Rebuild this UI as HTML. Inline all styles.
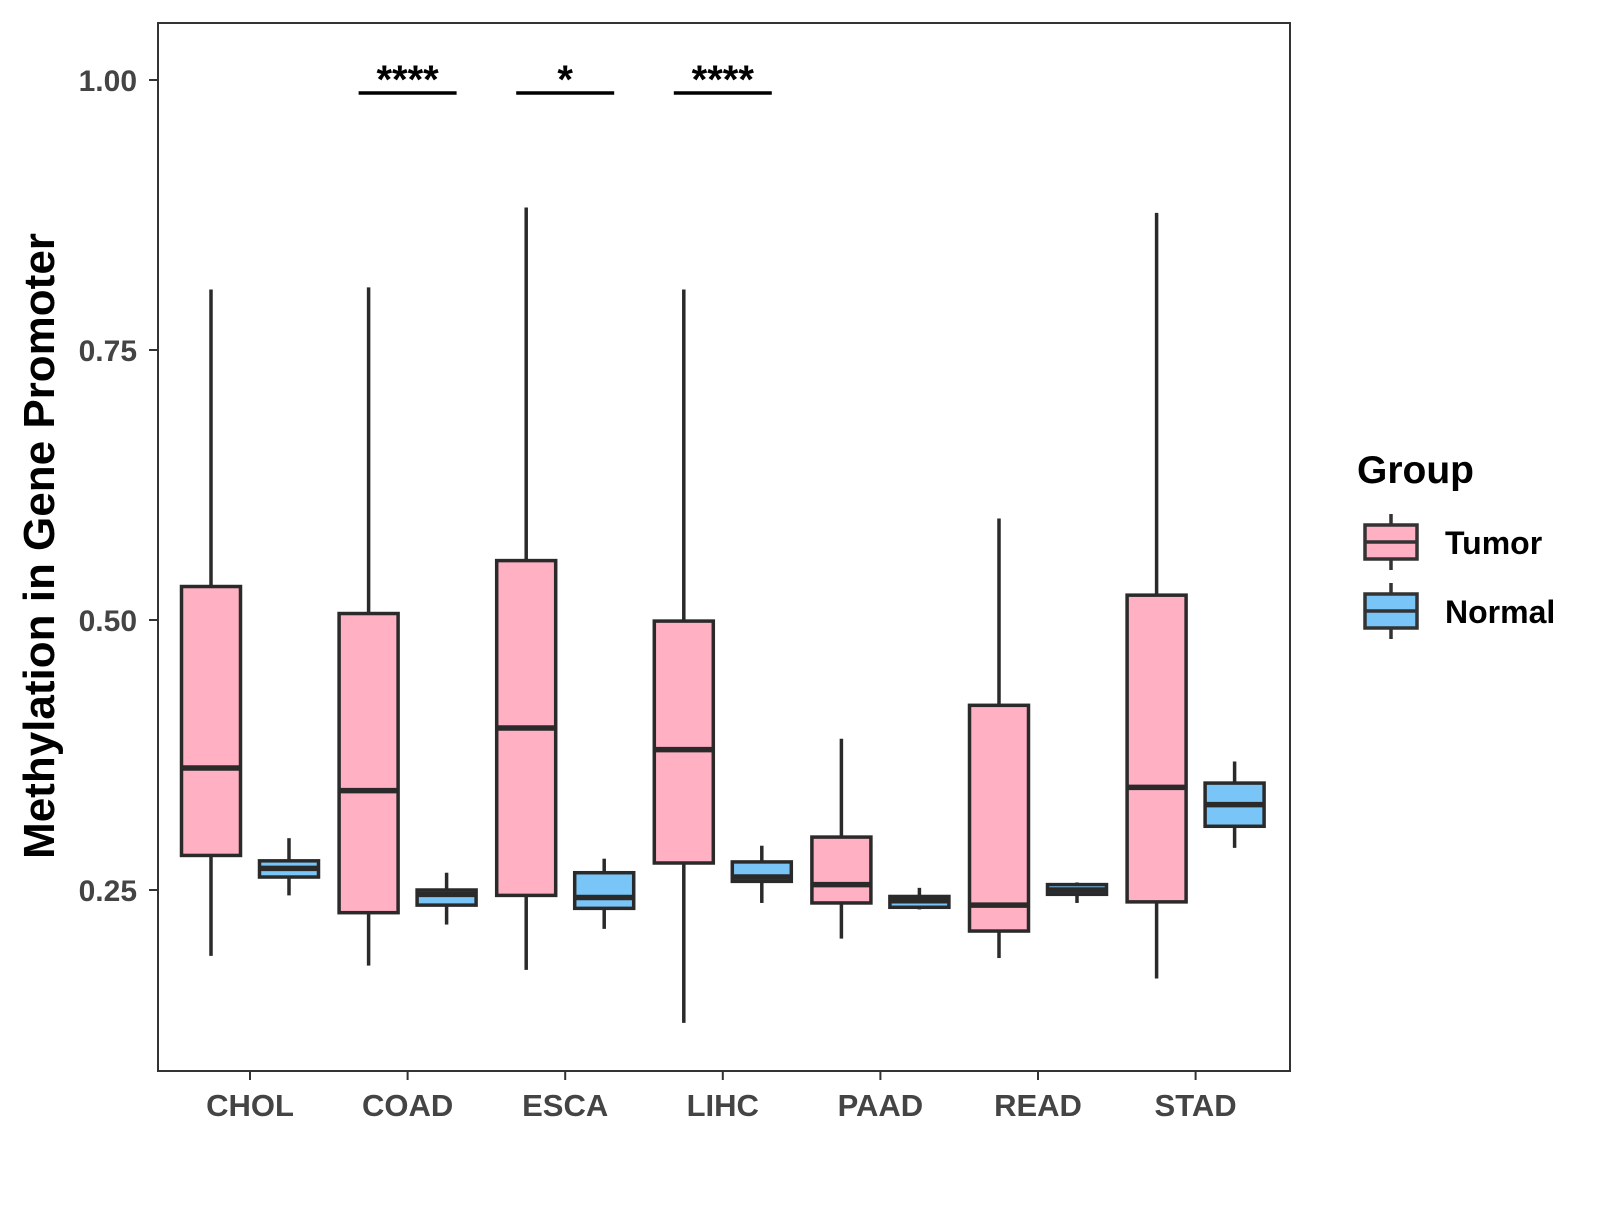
<!DOCTYPE html>
<html><head><meta charset="utf-8"><style>
body{margin:0;background:#fff}
text{font-family:"Liberation Sans",Arial,sans-serif;font-weight:bold}
</style></head><body>
<svg id="chart" width="1600" height="1200" xmlns="http://www.w3.org/2000/svg">
<rect x="0" y="0" width="1600" height="1200" fill="#fff"/>
<g id="marks"></g>
<rect x="158" y="23" width="1132" height="1048" fill="none" stroke="#333" stroke-width="2"/>
<g id="axes"></g>
<text transform="translate(54,546) rotate(-90)" text-anchor="middle" font-size="44" fill="#000">Methylation in Gene Promoter</text>
<text x="1357" y="483" font-size="39" fill="#000">Group</text>
<g>
<line x1="1391" y1="514" x2="1391" y2="570" stroke="#333" stroke-width="3.5"/>
<rect x="1365" y="525" width="52" height="34" fill="#FFB0C3" stroke="#333" stroke-width="3.5"/>
<line x1="1365" y1="542" x2="1417" y2="542" stroke="#333" stroke-width="3.5"/>
<text x="1445" y="554" font-size="32" fill="#000">Tumor</text></g>
<g>
<line x1="1391" y1="583" x2="1391" y2="639" stroke="#333" stroke-width="3.5"/>
<rect x="1365" y="594" width="52" height="34" fill="#7AC5F7" stroke="#333" stroke-width="3.5"/>
<line x1="1365" y1="611" x2="1417" y2="611" stroke="#333" stroke-width="3.5"/>
<text x="1445" y="623" font-size="32" fill="#000">Normal</text></g>
</svg>
<script>
const categories=["CHOL","COAD","ESCA","LIHC","PAAD","READ","STAD"];
// [lowWhisker, q1, median, q3, highWhisker]
const tumorStats=[[0.189,0.282,0.363,0.531,0.806],[0.180,0.229,0.342,0.506,0.808],[0.176,0.245,0.400,0.555,0.882],[0.127,0.275,0.380,0.499,0.806],[0.205,0.238,0.255,0.299,0.390],[0.187,0.212,0.236,0.421,0.594],[0.168,0.239,0.345,0.523,0.877]];
const normalStats=[[0.245,0.262,0.270,0.277,0.298],[0.218,0.236,0.246,0.250,0.266],[0.214,0.233,0.243,0.266,0.279],[0.238,0.258,0.262,0.276,0.291],[0.232,0.234,0.240,0.244,0.252],[0.238,0.246,0.250,0.255,0.257],[0.289,0.309,0.329,0.349,0.369]];
const yTicks=[0.25,0.50,0.75,1.00];
const yTickLabels=["0.25","0.50","0.75","1.00"];
const sigCats=["COAD","ESCA","LIHC"];
const sigLabels=["****","*","****"];
const NS="http://www.w3.org/2000/svg";
function y(v){return 80+(1-v)*1080;}
function x(i){return 250+i*157.6;}
function mk(tag,attrs,parent){const e=document.createElementNS(NS,tag);for(const k in attrs)e.setAttribute(k,attrs[k]);parent.appendChild(e);return e;}
const marks=document.getElementById('marks'),axes=document.getElementById('axes');
function box(cx,s,fill,name){
 const g=mk('g',{},marks);
 
 
 const w=59,st={stroke:'#2a2a2a','stroke-width':3.5};
 mk('line',Object.assign({x1:cx,x2:cx,y1:y(s[4]),y2:y(s[3])},st),g);
 mk('line',Object.assign({x1:cx,x2:cx,y1:y(s[1]),y2:y(s[0])},st),g);
 mk('rect',Object.assign({x:cx-w/2,y:y(s[3]),width:w,height:y(s[1])-y(s[3]),fill:fill},st),g);
 mk('line',{x1:cx-w/2,x2:cx+w/2,y1:y(s[2]),y2:y(s[2]),stroke:'#2a2a2a','stroke-width':5.5},g);
}
categories.forEach((c,i)=>{
 box(x(i)-39,tumorStats[i],'#FFB0C3','box-tumor-'+c.toLowerCase());
 box(x(i)+39,normalStats[i],'#7AC5F7','box-normal-'+c.toLowerCase());
 mk('line',{x1:x(i),x2:x(i),y1:1071,y2:1080,stroke:'#333','stroke-width':2},axes);
 const t=mk('text',{x:x(i),y:1116,'text-anchor':'middle','font-size':31,fill:'#444'},axes);
 
 
 t.textContent=c;
});
yTicks.forEach((v,i)=>{
 mk('line',{x1:149,x2:158,y1:y(v),y2:y(v),stroke:'#333','stroke-width':2},axes);
 const t=mk('text',{x:137,y:y(v)+11,'text-anchor':'end','font-size':30,fill:'#444'},axes);
 
 
 t.textContent=yTickLabels[i];
});
sigCats.forEach((c,k)=>{
 const i=categories.indexOf(c);
 const l=mk('line',{x1:x(i)-49,x2:x(i)+49,y1:93,y2:93,stroke:'#000','stroke-width':3.5},marks);
 
 
 const t=mk('text',{x:x(i),y:93,'text-anchor':'middle','font-size':40,fill:'#000'},marks);
 
 
 t.textContent=sigLabels[k];
});
</script>
</body></html>
